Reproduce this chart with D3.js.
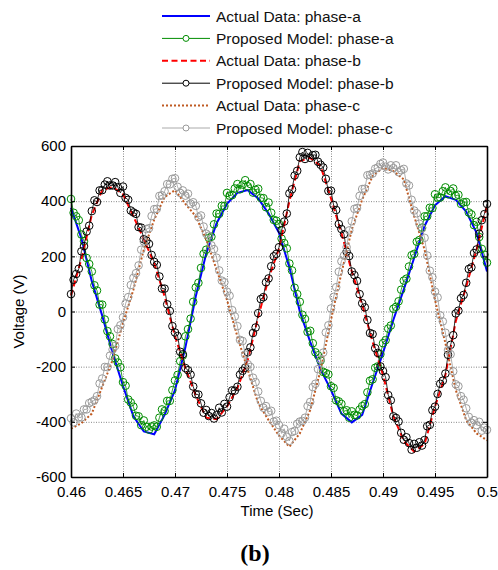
<!DOCTYPE html>
<html>
<head>
<meta charset="utf-8">
<script src="https://cdn.jsdelivr.net/npm/d3@7/dist/d3.min.js"></script>
<style>
  body { margin: 0; background: #fff; }
  text { font-family: Arial, "Liberation Sans", sans-serif; }
</style>
</head>
<body>
<div id="chart"></div>
<script>
// sample grids (seconds)
const tStart = 0.46;
const actualStep = 0.001;
const modelStep = 0.00025;

// Actual data, one value per 1 ms
const actualA = [376,265,110,-15,-150,-270,-380,-435,-445,-375,-285,
  -130,55,210,320,390,430,440,410,355,285,
  160,0,-110,-210,-285,-370,-402,-375,-260,-150,
  -30,80,195,310,385,418,405,362,285,145];
const actualB = [58,190,350,440,452,425,345,262,175,55,-90,
  -205,-305,-385,-390,-345,-278,-176,-20,120,228,
  400,545,557,527,410,285,145,25,-110,-230,
  -380,-470,-508,-480,-345,-230,-35,90,225,385];
const actualC = [-425,-405,-370,-273,-176,-42,79,224,333,415,440,
  390,345,261,152,42,-91,-212,-333,-394,-450,
  -490,-442,-358,-212,-30,139,297,406,491,521,
  509,479,345,224,42,-115,-285,-394,-442,-467];

// Proposed model, one value per 0.25 ms
const modelA = [408,358,345,331,279,255,194,172,145,95,76,25,25,-29,-71,-90,
  -118,-170,-185,-202,-256,-269,-319,-330,-345,-378,-380,-412,-395,-418,-428,-417,
  -413,-418,-385,-355,-361,-324,-324,-285,-250,-230,-180,-160,-90,-64,-26,35,
  87,104,158,209,224,267,271,316,355,354,383,382,430,420,422,446,
  462,443,460,476,454,462,431,441,445,412,411,378,395,358,332,329,
  317,264,248,229,174,149,86,63,35,-12,-27,-74,-70,-115,-148,-159,
  -178,-219,-223,-228,-271,-277,-322,-326,-335,-362,-358,-385,-362,-375,-377,-356,
  -343,-336,-293,-251,-246,-204,-199,-155,-115,-104,-62,-51,10,17,37,79,
  112,119,163,204,209,253,259,304,345,345,376,375,425,413,413,436,
  450,425,437,446,419,423,390,396,397,359,352,313,325,270,227,206,177];
const modelB = [63,115,136,155,218,237,290,311,364,403,397,439,440,460,472,457,
  457,469,451,430,453,412,405,366,359,354,306,304,262,257,245,205,
  180,169,127,83,83,26,2,-53,-76,-89,-146,-155,-205,-213,-229,-272,
  -300,-301,-333,-367,-357,-379,-368,-388,-376,-349,-366,-335,-345,-311,-286,-287,
  -273,-229,-215,-204,-148,-130,-78,-58,-6,45,52,106,120,164,200,209,
  233,295,326,355,428,443,493,510,559,578,553,575,557,567,568,543,
  532,522,481,437,438,386,368,317,299,280,217,201,145,132,111,63,
  30,15,-31,-78,-82,-133,-150,-199,-216,-238,-303,-322,-380,-386,-399,-440,
  -465,-456,-477,-501,-480,-494,-474,-486,-466,-416,-411,-358,-345,-299,-262,-251,
  -225,-157,-121,-86,-7,3,48,60,104,154,160,212,225,282,331,353,390];
const modelC = [-387,-402,-370,-384,-384,-355,-355,-332,-327,-322,-307,-261,-243,-201,-202,-160,
  -138,-125,-64,-50,-21,29,52,96,122,139,167,224,254,299,302,346,
  371,372,419,421,436,462,461,481,483,452,430,439,420,427,391,396,
  383,342,348,308,282,275,240,226,195,149,112,106,72,57,5,-18,
  -53,-103,-107,-156,-191,-201,-240,-256,-290,-324,-349,-343,-364,-360,-399,-396,
  -412,-442,-425,-454,-469,-437,-433,-407,-399,-397,-385,-343,-328,-274,-262,-209,
  -174,-149,-76,-50,11,53,88,144,182,203,233,294,327,372,375,419,
  444,445,494,496,500,518,522,535,540,525,515,530,520,530,505,512,
  517,464,457,405,366,356,318,301,267,203,148,124,72,51,-14,-36,
  -77,-140,-155,-217,-264,-271,-307,-320,-351,-382,-403,-394,-412,-400,-432,-421,-429];

const xTicks = [0.46, 0.465, 0.47, 0.475, 0.48, 0.485, 0.49, 0.495, 0.5];
const yTicks = [-600, -400, -200, 0, 200, 400, 600];
const legendLabels = ["Actual Data: phase-a", "Proposed Model: phase-a",
  "Actual Data: phase-b", "Proposed Model: phase-b",
  "Actual Data: phase-c", "Proposed Model: phase-c"];

const margin = { top: 146, right: 11, bottom: 93, left: 71 };
const width = 498 - margin.left - margin.right;
const height = 570 - margin.top - margin.bottom;

const root = d3.select("#chart")
    .append("svg")
    .attr("width", 498)
    .attr("height", 570);

const svg = root.append("g")
    .attr("transform", `translate(${margin.left},${margin.top})`);

const x = d3.scaleLinear().domain([0.46, 0.5]).range([0, width]);
const y = d3.scaleLinear().domain([-600, 600]).range([height, 0]);

// grid
svg.append("g")
    .attr("transform", `translate(0,${height})`)
    .call(d3.axisBottom(x).tickValues(xTicks.slice(1, -1)).tickSize(-height).tickFormat(""))
    .call(g => g.select(".domain").remove());
svg.append("g")
    .call(d3.axisLeft(y).tickValues(yTicks.slice(1, -1)).tickSize(-width).tickFormat(""))
    .call(g => g.select(".domain").remove());
svg.selectAll(".tick line")
    .attr("stroke", "#7a7a7a")
    .attr("stroke-width", 0.9)
    .attr("stroke-dasharray", "1,1.5");

const series = [
  { vals: actualA, step: actualStep, color: "#0000ff", width: 2, dash: null, marker: false },
  { vals: modelA, step: modelStep, color: "#008c00", width: 0.8, dash: null, marker: true },
  { vals: actualB, step: actualStep, color: "#ff0000", width: 2, dash: "6,3.5", marker: false },
  { vals: modelB, step: modelStep, color: "#000000", width: 0.8, dash: null, marker: true },
  { vals: actualC, step: actualStep, color: "#bf5a22", width: 2, dash: "2,2", marker: false },
  { vals: modelC, step: modelStep, color: "#9a9a9a", width: 0.8, dash: null, marker: true }
];

const line = d3.line()
    .x(d => x(d.t))
    .y(d => y(d.v));

series.forEach(s => {
    const pts = s.vals.map((v, i) => ({ t: tStart + i * s.step, v: v }));
    svg.append("path")
        .datum(pts)
        .attr("fill", "none")
        .attr("stroke", s.color)
        .attr("stroke-width", s.width)
        .attr("stroke-dasharray", s.dash)
        .attr("d", line);
    if (s.marker) {
        svg.append("g").selectAll("circle")
            .data(pts)
            .enter()
            .append("circle")
            .attr("cx", d => x(d.t))
            .attr("cy", d => y(d.v))
            .attr("r", 3.8)
            .attr("fill", "none")
            .attr("stroke", s.color)
            .attr("stroke-width", 1);
    }
});

// axes with inward ticks on all four sides
const xAxis = svg.append("g")
    .attr("transform", `translate(0,${height})`)
    .call(d3.axisBottom(x).tickValues(xTicks).tickSize(-4).tickSizeOuter(0).tickPadding(9)
        .tickFormat(d => String(+d.toFixed(3))));
const yAxis = svg.append("g")
    .call(d3.axisLeft(y).tickValues(yTicks).tickSize(-4).tickSizeOuter(0).tickPadding(5)
        .tickFormat(d => String(d)));
const topAxis = svg.append("g")
    .call(d3.axisTop(x).tickValues(xTicks).tickSize(-4).tickSizeOuter(0).tickFormat(""));
const rightAxis = svg.append("g")
    .attr("transform", `translate(${width},0)`)
    .call(d3.axisRight(y).tickValues(yTicks).tickSize(-4).tickSizeOuter(0).tickFormat(""));

[xAxis, yAxis, topAxis, rightAxis].forEach(a => {
    a.select(".domain").attr("stroke", "#000").attr("stroke-width", 1.6);
    a.selectAll(".tick line").attr("stroke", "#000").attr("stroke-width", 1);
    a.selectAll(".tick text")
        .attr("fill", "#000")
        .style("font-size", "15px")
        .style("font-family", "Arial, 'Liberation Sans', sans-serif");
});

svg.append("text")
    .attr("x", width / 2 - 2)
    .attr("y", height + 38.5)
    .attr("text-anchor", "middle")
    .style("font-size", "15px")
    .text("Time (Sec)");

svg.append("text")
    .attr("transform", `translate(${23.5 - margin.left},${height / 2})rotate(-90)`)
    .attr("text-anchor", "middle")
    .style("font-size", "15px")
    .text("Voltage (V)");

// legend
const legend = root.append("g");
series.forEach((s, i) => {
    const ly = 16 + i * 22.4;
    legend.append("line")
        .attr("x1", 162).attr("x2", 210)
        .attr("y1", ly).attr("y2", ly)
        .attr("stroke", i === 5 ? "#aaaaaa" : s.color)
        .attr("stroke-width", s.marker ? 1 : 2)
        .attr("stroke-dasharray", s.dash);
    if (s.marker) {
        legend.append("circle")
            .attr("cx", 186).attr("cy", ly).attr("r", 3)
            .attr("fill", "#fff")
            .attr("stroke", s.color);
    }
    legend.append("text")
        .attr("x", 216)
        .attr("y", ly)
        .attr("dy", "0.36em")
        .style("font-size", "15.5px")
        .attr("fill", "#111")
        .text(legendLabels[i]);
});

root.append("text")
    .attr("x", 255)
    .attr("y", 561)
    .attr("text-anchor", "middle")
    .style("font-family", "'Liberation Serif', 'Times New Roman', serif")
    .style("font-weight", "bold")
    .style("font-size", "24px")
    .text("(b)");
</script>
</body>
</html>
